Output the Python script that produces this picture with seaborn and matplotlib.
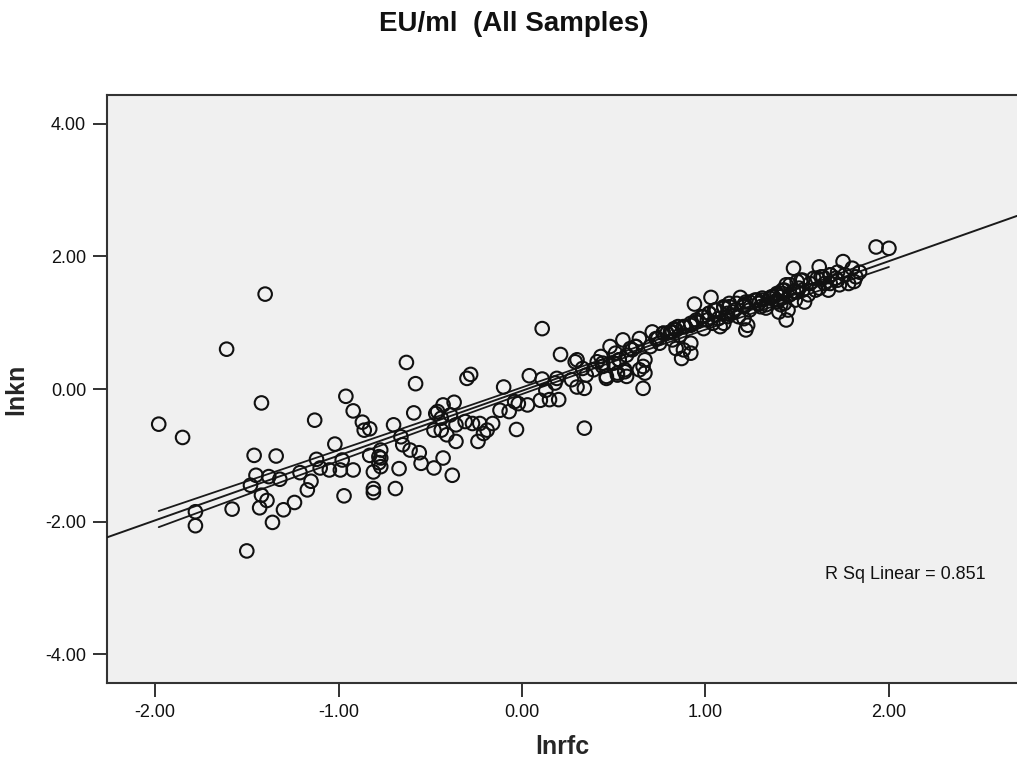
import numpy as np
import matplotlib
matplotlib.use("Agg")
import matplotlib.pyplot as plt
import seaborn as sns

# ---- data ----
lnrfc = [
    -1.98, -1.85, -1.61, -1.40, -1.42, -1.78, -1.78, -1.58, -1.50, -1.48,
    -1.46, -1.45, -1.42, -1.39, -1.43, -1.38, -1.36, -1.34, -1.32, -1.30,
    -1.24, -1.21, -1.17, -1.15, -1.13, -1.12, -1.10, -1.05, -1.02, -0.99,
    -0.98, -0.97, -0.96, -0.92, -0.92, -0.87, -0.86, -0.83, -0.83, -0.81,
    -0.81, -0.81, -0.78, -0.77, -0.78, -0.77, -0.77, -0.70, -0.66, -0.65,
    -0.61, -0.63, -0.58, -0.59, -0.67, -0.69, -0.56, -0.55, -0.48, -0.43,
    -0.38, -0.43, -0.37, -0.46, -0.47, -0.44, -0.39, -0.48, -0.44, -0.41,
    -0.36, -0.36, -0.30, -0.28, -0.31, -0.27, -0.23, -0.21, -0.24, -0.19,
    -0.16, -0.10, -0.12, -0.07, -0.04, -0.03, -0.02, 0.03, 0.04, 0.11,
    0.21, 0.11, 0.13, 0.10, 0.15, 0.20, 0.18, 0.19, 0.34, 0.29,
    0.27, 0.34, 0.35, 0.41, 0.43, 0.46, 0.48, 0.44, 0.30, 0.33,
    0.51, 0.53, 0.52, 0.56, 0.55, 0.59, 0.62, 0.64, 0.67, 0.67,
    0.66, 0.66, 0.71, 0.74, 0.79, 0.82, 0.85, 0.84, 0.57, 0.64,
    0.87, 0.92, 0.88, 0.92, 0.94, 1.03, 1.19, 1.22, 1.23, 1.39,
    1.44, 1.40, 1.44, 1.54, 1.48, 1.62, 1.75, 1.93, 2.00, 1.80,
    1.81, 1.78, 1.82, 1.37, 1.39, 1.53, 1.52, 1.59, 1.63, 1.65,
    1.68, 1.71, 1.62, 1.43, 1.46, 1.41,
    0.77, 0.81, 0.83, 0.86, 0.89, 0.92, 0.95, 0.98, 1.01, 1.02,
    1.05, 1.07, 1.10, 1.12, 1.13, 1.16, 1.18, 1.21, 1.22, 1.24,
    1.27, 1.29, 1.31, 1.33, 1.36, 1.39, 1.42, 1.43, 1.21, 1.10,
    0.99,
    1.49, 1.50, 1.56, 1.60, 1.67, 1.73, 1.76, 1.72, 1.84, 1.68,
    0.39, 0.44, 0.50, 0.53, 0.57, 0.60, 0.62, 0.73, 0.77, 0.81,
    0.84, 0.88, 0.92, 0.95, 0.99, 1.02, 1.06, 1.10, 1.13, 1.17,
    1.21, 1.24, 1.28, 1.31, 1.35, 1.39, 1.42, 1.46, 1.50, 1.53,
    1.57, 1.61, 1.64, 1.68, 1.72, 0.46, 0.52, 0.56, 0.70, 0.75,
    0.82, 1.04, 1.08, 1.12, 1.15, 1.30, 1.33, 1.41, 1.48, 1.51,
    1.45, 0.30,
]
lnkn = [
    -0.53, -0.73, 0.60, 1.43, -0.21, -1.85, -2.06, -1.81, -2.44, -1.45,
    -1.00, -1.30, -1.60, -1.68, -1.79, -1.32, -2.01, -1.01, -1.36, -1.82,
    -1.71, -1.26, -1.52, -1.39, -0.47, -1.06, -1.19, -1.22, -0.83, -1.22,
    -1.07, -1.61, -0.11, -1.22, -0.33, -0.50, -0.62, -0.60, -1.00, -1.25,
    -1.50, -1.56, -1.02, -0.92, -1.11, -1.04, -1.17, -0.54, -0.72, -0.84,
    -0.92, 0.40, 0.08, -0.36, -1.20, -1.50, -0.96, -1.12, -1.19, -1.04,
    -1.30, -0.24, -0.20, -0.34, -0.37, -0.44, -0.39, -0.62, -0.62, -0.69,
    -0.79, -0.54, 0.16, 0.22, -0.49, -0.52, -0.52, -0.67, -0.79, -0.62,
    -0.52, 0.03, -0.32, -0.34, -0.19, -0.61, -0.22, -0.24, 0.20, 0.91,
    0.52, 0.15, -0.02, -0.17, -0.16, -0.16, 0.09, 0.16, -0.59, 0.41,
    0.14, 0.01, 0.21, 0.41, 0.49, 0.16, 0.64, 0.39, 0.03, 0.31,
    0.54, 0.44, 0.21, 0.26, 0.74, 0.61, 0.64, 0.76, 0.44, 0.24,
    0.01, 0.34, 0.86, 0.76, 0.84, 0.86, 0.94, 0.61, 0.19, 0.29,
    0.46, 0.69, 0.59, 0.54, 1.28, 1.38, 1.38, 0.89, 0.96, 1.42,
    1.57, 1.16, 1.04, 1.31, 1.82, 1.84, 1.92, 2.14, 2.12, 1.82,
    1.62, 1.59, 1.69, 1.39, 1.34, 1.49, 1.64, 1.67, 1.69, 1.59,
    1.59, 1.67, 1.52, 1.49, 1.42, 1.27,
    0.84, 0.86, 0.91, 0.81, 0.94, 0.99, 1.04, 1.09, 1.04, 1.14,
    1.19, 1.06, 1.24, 1.14, 1.29, 1.19, 1.09, 1.24, 1.31, 1.19,
    1.34, 1.29, 1.37, 1.27, 1.39, 1.31, 1.44, 1.29, 1.06, 0.99,
    0.91,
    1.34, 1.46, 1.42, 1.49, 1.49, 1.57, 1.72, 1.76, 1.76, 1.72,
    0.29, 0.34, 0.39, 0.44, 0.51, 0.59, 0.64, 0.76, 0.84, 0.86,
    0.89, 0.94, 0.96, 1.01, 1.09, 1.14, 1.19, 1.22, 1.24, 1.29,
    1.27, 1.31, 1.34, 1.34, 1.37, 1.44, 1.49, 1.57, 1.62, 1.64,
    1.59, 1.67, 1.69, 1.72, 1.64, 0.19, 0.24, 0.29, 0.64, 0.69,
    0.74, 0.99, 0.94, 1.09, 1.16, 1.24, 1.22, 1.39, 1.47, 1.52,
    1.19, 0.44,
]

x_ticks = [-2.0, -1.0, 0.0, 1.0, 2.0]
y_ticks = [-4.0, -2.0, 0.0, 2.0, 4.0]
title = "EU/ml  (All Samples)"
x_label = "lnrfc"
y_label = "lnkn"
r2_text = "R Sq Linear = 0.851"

# ---- style ----
sns.set_style("white")
plt.rcParams["font.family"] = ["Liberation Sans", "DejaVu Sans"]

fig = plt.figure(figsize=(10.17, 7.62), dpi=100)
fig.patch.set_facecolor("white")
ax = fig.add_axes([0.1052, 0.1037, 0.8948, 0.7716])
ax.set_facecolor("#F0F0F0")

ax.set_xlim(-2.262, 2.698)
ax.set_ylim(-4.43, 4.43)

x = np.array(lnrfc)
y = np.array(lnkn)

# regression fit line spanning the whole axis
sns.regplot(x=x, y=y, ax=ax, scatter=False, ci=None, truncate=False,
            line_kws=dict(color="#1a1a1a", lw=1.4, zorder=3))

# 95% mean confidence lines over the data range
n = len(x)
b1, b0 = np.polyfit(x, y, 1)
resid = y - (b0 + b1 * x)
s = np.sqrt(np.sum(resid ** 2) / (n - 2))
sxx = np.sum((x - x.mean()) ** 2)
xg = np.linspace(x.min(), x.max(), 100)
yg = b0 + b1 * xg
half = 1.97 * s * np.sqrt(1.0 / n + (xg - x.mean()) ** 2 / sxx)
ax.plot(xg, yg + half, color="#1a1a1a", lw=1.3, zorder=3)
ax.plot(xg, yg - half, color="#1a1a1a", lw=1.3, zorder=3)

sns.scatterplot(x=x, y=y, ax=ax, marker="o", s=95, facecolors="none",
                edgecolor="#111111", linewidth=1.5, zorder=4, legend=False)

ax.set_xlim(-2.262, 2.698)
ax.set_ylim(-4.43, 4.43)
ax.set_xticks(x_ticks)
ax.set_yticks(y_ticks)
ax.set_xticklabels([f"{v:.2f}" for v in x_ticks])
ax.set_yticklabels([f"{v:.2f}" for v in y_ticks])
ax.tick_params(axis="both", direction="out", length=10, width=1.3,
               color="#222222", labelsize=13, pad=5, labelcolor="#111111")
ax.tick_params(top=False, right=False, bottom=True, left=True)

for side in ["left", "bottom", "top"]:
    ax.spines[side].set_visible(True)
    ax.spines[side].set_color("#333333")
    ax.spines[side].set_linewidth(1.5)
ax.spines["right"].set_visible(False)

ax.set_xlabel(x_label, fontsize=18, fontweight="bold", labelpad=10)
ax.set_ylabel(y_label, fontsize=18, fontweight="bold", labelpad=12)

ax.text(1.65, -2.79, r2_text, fontsize=13, ha="left", va="center",
        color="#111111")

fig.text(514 / 1017, 1 - 24 / 762, title, fontsize=20, fontweight="bold",
         ha="center", va="center", color="#111111")

fig.savefig("out.png", dpi=100)
